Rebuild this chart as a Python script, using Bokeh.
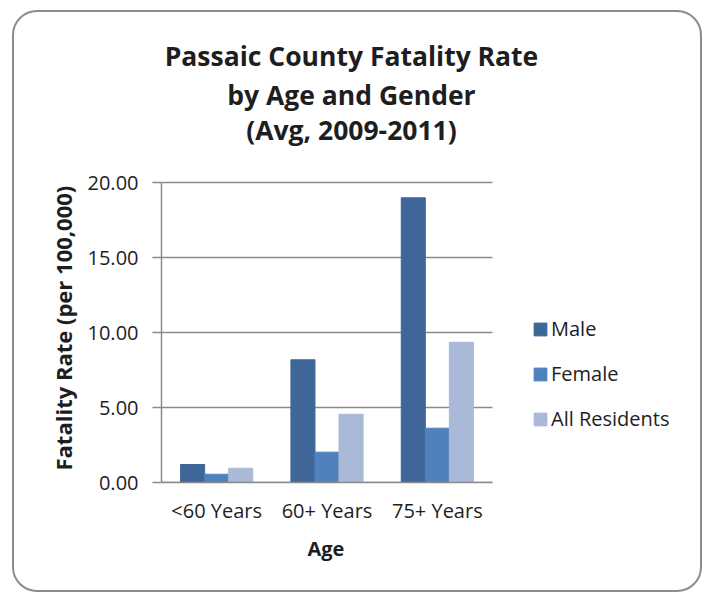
from bokeh.plotting import figure
from bokeh.models import (ColumnDataSource, Range1d, FixedTicker, PrintfTickFormatter,
                          Legend, LegendItem, Label, Title)
from bokeh.transform import dodge
from bokeh.embed import file_html
from bokeh.resources import INLINE

categories = ["<60 Years", "60+ Years", "75+ Years"]
male = [1.20, 8.18, 18.98]
female = [0.55, 2.02, 3.62]
all_residents = [0.95, 4.55, 9.35]
series_names = ["Male", "Female", "All Residents"]
series_colors = ["#3E6699", "#4F81BD", "#AAB9D8"]
y_ticks = [0, 5, 10, 15, 20]
title_lines = ["Passaic County Fatality Rate", "by Age and Gender", "(Avg, 2009-2011)"]
x_title = "Age"
y_title = "Fatality Rate (per 100,000)"

FONT = "Open Sans"
TXT = "#1e1e1e"
GRID = "#8a8a8a"

# category slots on a numeric axis: one unit per category
x_centers = [i + 0.5 for i in range(len(categories))]
n_cat = len(categories)
y_max = y_ticks[-1]

src = ColumnDataSource(data=dict(x=x_centers, male=male, female=female, all=all_residents))
grid_src = ColumnDataSource(data=dict(y=y_ticks, x0=[0] * len(y_ticks), x1=[n_cat] * len(y_ticks)))

# plot area: 331 px for the 3 categories and 300 px for 0..20; the frame extends right/up
px_per_cat = 331 / 3
px_per_unit = 300 / 20
W, H = 690, 582
ML = 147
frame_h = 470
MB = H - frame_h
frame_w = W - ML

p = figure(width=W, height=H,
           x_range=Range1d(0, frame_w / px_per_cat), y_range=Range1d(0, frame_h / px_per_unit),
           output_backend="svg", toolbar_location=None,
           min_border_left=ML, min_border_right=0, min_border_top=0, min_border_bottom=MB)
p.outline_line_color = None
p.background_fill_color = None
p.border_fill_color = None
p.styles = {"border": "2px solid #8c8c8c", "border-radius": "25px",
            "margin-left": "12px", "margin-top": "10px"}

# horizontal gridlines over the category area only
p.segment(x0="x0", x1="x1", y0="y", y1="y", source=grid_src, line_color=GRID, line_width=1.3)

bw = 0.218
renderers = []
for i, (key, col) in enumerate(zip(["male", "female", "all"], series_colors)):
    r = p.vbar(x=dodge("x", (i - 1) * bw), top=key, width=bw,
               source=src, fill_color=col, line_color=col)
    renderers.append(r)

p.xgrid.grid_line_color = None
p.ygrid.grid_line_color = None

# y axis
p.yaxis.bounds = (0, y_max)
p.yaxis.ticker = FixedTicker(ticks=y_ticks)
p.yaxis.formatter = PrintfTickFormatter(format="%.2f")
p.yaxis.minor_tick_line_color = None
p.yaxis.major_tick_in = 0
p.yaxis.major_tick_out = 9
p.yaxis.major_tick_line_color = GRID
p.yaxis.major_tick_line_width = 1.5
p.yaxis.axis_line_color = GRID
p.yaxis.axis_line_width = 1.5
p.yaxis.major_label_text_font = FONT
p.yaxis.major_label_text_font_size = "20px"
p.yaxis.major_label_text_color = TXT
p.yaxis.major_label_standoff = 14

# x axis
p.xaxis.bounds = (0, n_cat)
p.xaxis.ticker = FixedTicker(ticks=x_centers)
p.xaxis.major_label_overrides = {x: c for x, c in zip(x_centers, categories)}
p.xaxis.major_tick_line_color = None
p.xaxis.minor_tick_line_color = None
p.xaxis.axis_line_color = GRID
p.xaxis.axis_line_width = 1.5
p.xaxis.major_label_text_font = FONT
p.xaxis.major_label_text_font_size = "20px"
p.xaxis.major_label_text_color = TXT
p.xaxis.major_label_standoff = 8

# axis titles, positioned along the category / value span rather than the whole frame
p.add_layout(Title(text=x_title, align="left", offset=146, vertical_align="top", standoff=16,
                   text_font=FONT, text_font_style="bold", text_font_size="20px",
                   text_color=TXT), "below")
p.add_layout(Title(text=y_title, align="left", offset=12, standoff=14,
                   text_font=FONT, text_font_style="bold", text_font_size="22px",
                   text_color=TXT), "left")

# legend to the right of the bars
legend = Legend(items=[LegendItem(label=n, renderers=[r]) for n, r in zip(series_names, renderers)],
                location=(371, 50), orientation="vertical",
                glyph_width=16, glyph_height=16, label_standoff=3, spacing=18,
                padding=0, margin=0, border_line_color=None, background_fill_alpha=0,
                label_text_font=FONT, label_text_font_size="20px", label_text_color=TXT)
p.add_layout(legend, "center")

# three-line title (vertical centres given in data units of the y scale)
title_x = 1.722
title_y = [28.42, 25.86, 23.52]
for t, ty in zip(title_lines, title_y):
    p.add_layout(Label(x=title_x, y=ty, text=t, text_align="center", text_baseline="middle",
                       text_font=FONT, text_font_style="bold", text_font_size="26.5px",
                       text_color=TXT))

open("out.html", "w").write(file_html(p, INLINE))
